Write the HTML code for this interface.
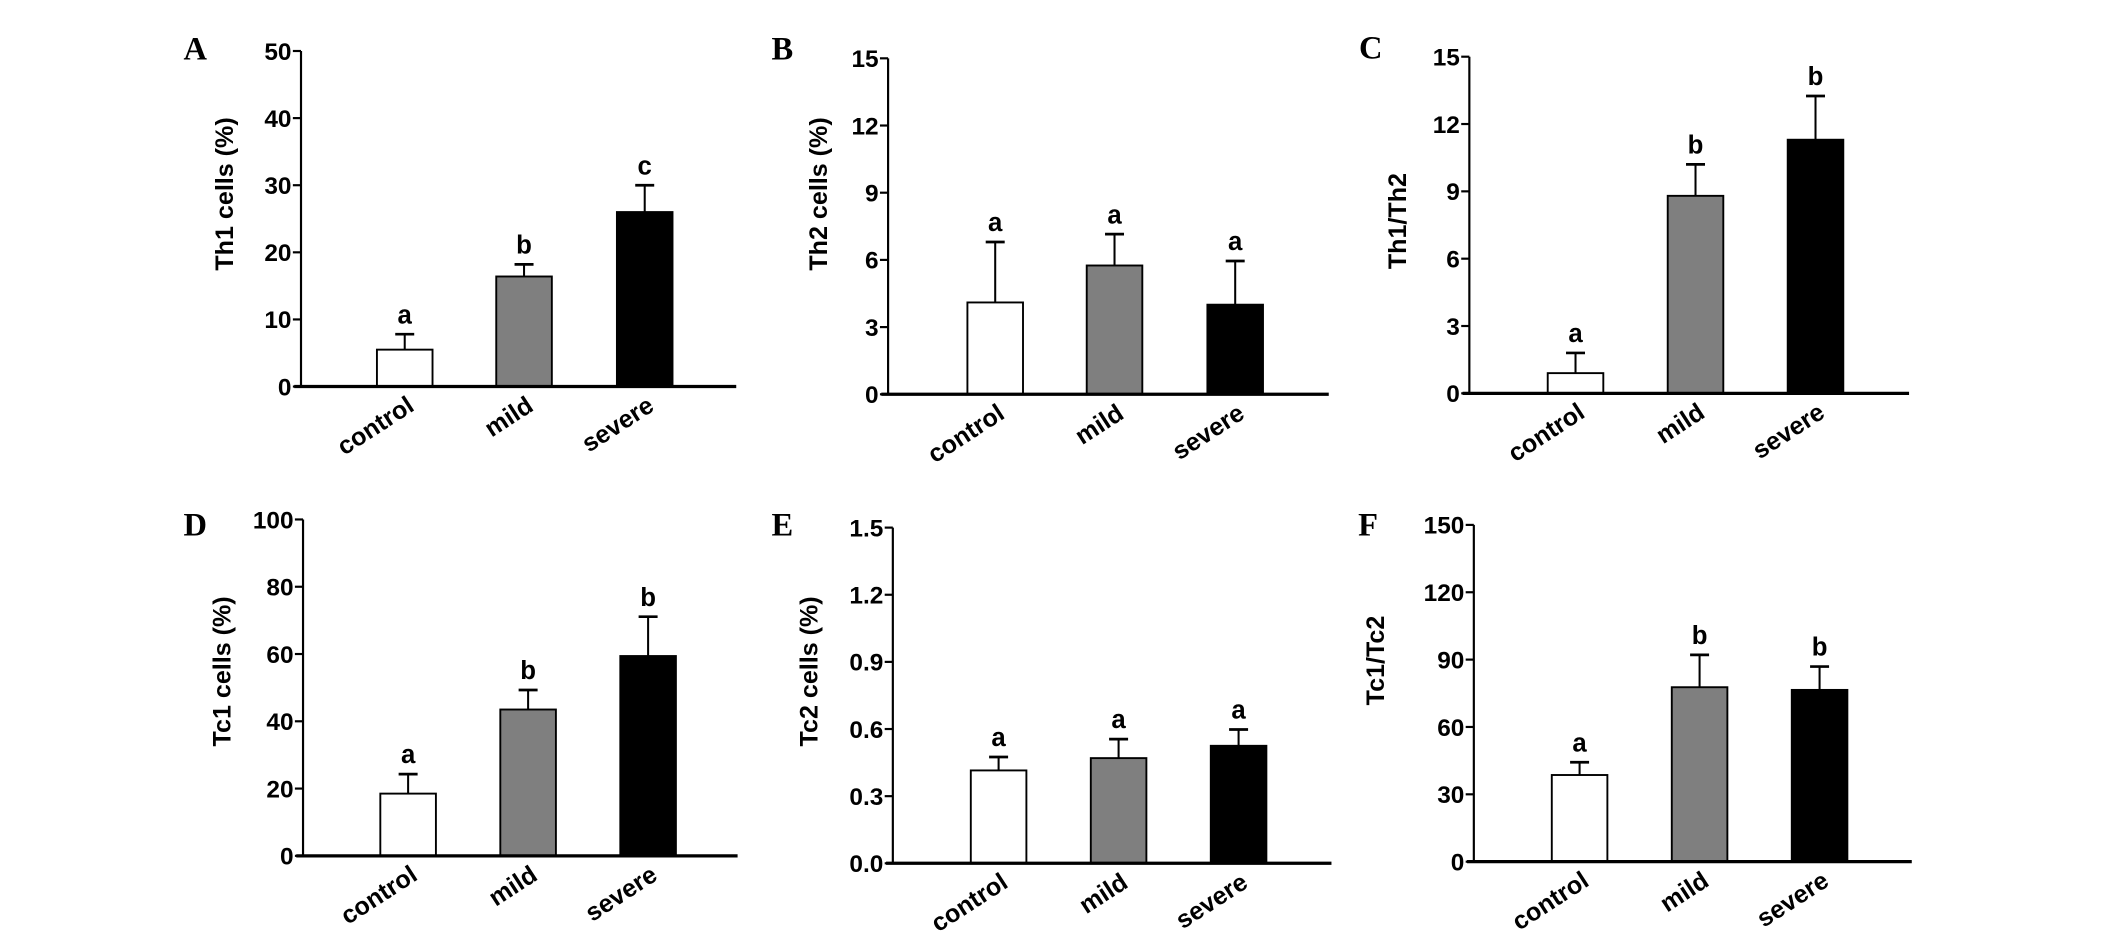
<!DOCTYPE html>
<html><head><meta charset="utf-8"><style>
html,body{margin:0;padding:0;background:#fff;}
svg{display:block;}
text{font-family:"Liberation Sans",sans-serif;font-weight:bold;fill:#000;}
.tick{font-size:18px;}
.sig{font-size:19px;}
.panel{font-family:"Liberation Serif",serif;font-size:24px;}
.ytitle{font-size:18.5px;}
.cat{font-size:18.5px;}
</style></head><body>
<svg id="fig" width="2126" height="944" viewBox="0 0 1568 696" preserveAspectRatio="none" xmlns="http://www.w3.org/2000/svg"></svg>
<script>
const categories = ["control","mild","severe"];
const panelLetters = ["A","B","C","D","E","F"];
const yTitles = ["Th1 cells (%)","Th2 cells (%)","Th1/Th2","Tc1 cells (%)","Tc2 cells (%)","Tc1/Tc2"];
const yMax = [50,15,15,100,1.5,150];
const tickLabelsA = ["0","10","20","30","40","50"];
const tickLabelsB = ["0","3","6","9","12","15"];
const tickLabelsC = ["0","3","6","9","12","15"];
const tickLabelsD = ["0","20","40","60","80","100"];
const tickLabelsE = ["0.0","0.3","0.6","0.9","1.2","1.5"];
const tickLabelsF = ["0","30","60","90","120","150"];
const meansA = [5.5,16.4,26.0];  const errA = [7.8,18.2,30.0];
const meansB = [4.1,5.75,4.0];   const errB = [6.8,7.15,5.95];
const meansC = [0.9,8.8,11.3];   const errC = [1.8,10.2,13.25];
const meansD = [18.5,43.5,59.4]; const errD = [24.3,49.3,71.1];
const meansE = [0.415,0.47,0.525]; const errE = [0.475,0.555,0.598];
const meansF = [38.6,77.7,76.5]; const errF = [44.3,92.1,86.9];
const sigA = ["a","b","c"], sigB = ["a","a","a"], sigC = ["a","b","b"];
const sigD = ["a","b","b"], sigE = ["a","a","a"], sigF = ["a","b","b"];

const NS = "http://www.w3.org/2000/svg";
const svg = document.getElementById("fig");
function mk(tag, attrs, parent){
  const e = document.createElementNS(NS, tag);
  for (const k in attrs) e.setAttribute(k, attrs[k]);
  (parent||svg).appendChild(e);
  return e;
}
const layouts = [
  {ax:222, end:543, y0:285, yTop:37.6, bx:[298.5,386.5,475.5], lx:144, ly:44, tx:167, ty:143},
  {ax:655, end:980, y0:290.7, yTop:43, bx:[734,822,911], lx:577, ly:44, tx:605, ty:143},
  {ax:1083.7, end:1408, y0:290, yTop:41.8, bx:[1162,1250.5,1339], lx:1011, ly:43, tx:1032, ty:163},
  {ax:223.5, end:544, y0:631, yTop:383, bx:[301,389.5,478], lx:144, ly:395, tx:165, ty:495},
  {ax:658.5, end:982, y0:636.5, yTop:389, bx:[736.5,825,913.5], lx:577, ly:395, tx:598, ty:495},
  {ax:1087, end:1410, y0:635.3, yTop:387, bx:[1165,1253.5,1342], lx:1009, ly:395, tx:1016, ty:487}
];
const ticks = [tickLabelsA,tickLabelsB,tickLabelsC,tickLabelsD,tickLabelsE,tickLabelsF];
const means = [meansA,meansB,meansC,meansD,meansE,meansF];
const errs = [errA,errB,errC,errD,errE,errF];
const sigs = [sigA,sigB,sigC,sigD,sigE,sigF];
const fills = ["#ffffff","#7f7f7f","#000000"];
const BW = 41;

layouts.forEach((L, p) => {
  const g = mk("g", {});
  
  
  const yScale = v => L.y0 - (v / yMax[p]) * (L.y0 - L.yTop);

  const letter = mk("text", {x:L.lx, y:L.ly, "text-anchor":"middle", class:"panel"}, g);
  letter.textContent = panelLetters[p];
  
  

  const yt = mk("text", {x:L.tx, y:L.ty, "text-anchor":"middle", class:"ytitle", transform:`rotate(-90 ${L.tx} ${L.ty})`, "dominant-baseline":"middle"}, g);
  yt.textContent = yTitles[p];
  
  

  means[p].forEach((m, i) => {
    const cx = L.bx[i];
    const top = yScale(m);
    const r = mk("rect", {x:cx-BW/2, y:top, width:BW, height:L.y0-top, fill:fills[i], stroke:"#000", "stroke-width":1.4}, g);
    
    
    const et = yScale(errs[p][i]);
    const el = mk("line", {x1:cx, x2:cx, y1:top, y2:et, stroke:"#000", "stroke-width":1.5}, g);
    
    
    const cap = mk("line", {x1:cx-7, x2:cx+7, y1:et, y2:et, stroke:"#000", "stroke-width":2}, g);
    
    
    const s = mk("text", {x:cx, y:et-8, "text-anchor":"middle", class:"sig"}, g);
    s.textContent = sigs[p][i];
    
    
    const ax = cx + 8, ay = L.y0 + 17;
    const c = mk("text", {x:ax, y:ay, "text-anchor":"end", class:"cat", transform:`rotate(-33 ${ax} ${ay})`}, g);
    c.textContent = categories[i];
    
    
  });

  const ya = mk("line", {x1:L.ax, x2:L.ax, y1:L.yTop, y2:L.y0, stroke:"#000", "stroke-width":1.6}, g);
  
  
  const xa = mk("line", {x1:L.ax-5, x2:L.end, y1:L.y0, y2:L.y0, stroke:"#000", "stroke-width":2.4}, g);
  
  
  ticks[p].forEach((lab, k) => {
    const v = yMax[p] * k / (ticks[p].length - 1);
    const y = yScale(v);
    const t = mk("line", {x1:L.ax-6, x2:L.ax, y1:y, y2:y, stroke:"#000", "stroke-width":1.6}, g);
    
    
    const tl = mk("text", {x:L.ax-7, y:y+6.5, "text-anchor":"end", class:"tick"}, g);
    tl.textContent = lab;
    
    
  });
});
</script>
</body></html>
